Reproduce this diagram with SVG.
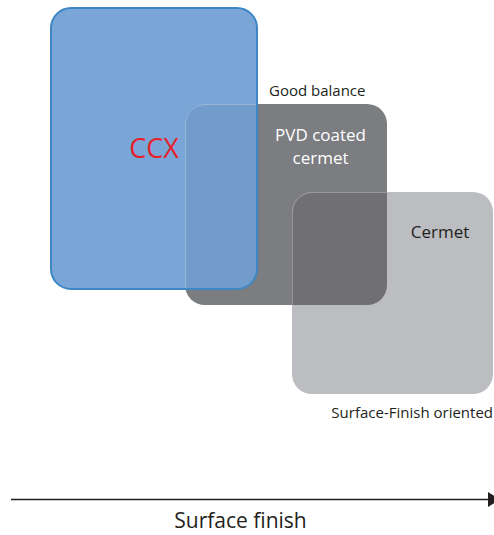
<svg xmlns="http://www.w3.org/2000/svg" width="494" height="535" viewBox="0 0 494 535">
  <style>
    text { font-family: "Open Sans", "Noto Sans", "Liberation Sans", sans-serif; }
    .lbl { fill: #231f20; }
    .white { fill: #ffffff; }
    .edge { fill: none; stroke: #ffffff; stroke-opacity: 0.28; stroke-width: 1; }
  </style>
  <defs>
    <marker id="arrow" markerWidth="12" markerHeight="15" refX="12" refY="7.5" orient="auto" markerUnits="userSpaceOnUse">
      <path d="M0,0 L12,7.5 L0,15 Z" fill="#231f20"/>
    </marker>
  </defs>
  <rect width="494" height="535" fill="#ffffff"/>

  <g id="node-pvd">
    <rect x="185" y="104" width="202" height="201" rx="20" fill="#7c7d81"/>
  </g>

  <g id="node-cermet">
    <rect x="292" y="192" width="201" height="202" rx="20" fill="#bcbdc1"/>
    <path d="M292,212 A20,20 0 0 1 312,192 H387 V285 A20,20 0 0 1 367,305 H292 Z" fill="#707074"/>
    <path class="edge" d="M292.5,305 V212 A20,20 0 0 1 312,192.5 H387"/>
    <text x="440" y="238" font-size="17" text-anchor="middle" class="lbl">Cermet</text>
  </g>

  <g id="node-ccx">
    <rect x="51" y="8" width="206" height="281" rx="20" fill="#79a6d6"/>
    <path d="M185,124 A20,20 0 0 1 205,104 H257 V269 A20,20 0 0 1 237,289 H185 Z" fill="#729ccb"/>
    <path class="edge" d="M185.5,289 V124 A20,20 0 0 1 205,104.5 H257"/>
    <rect x="51" y="8" width="206" height="281" rx="20" fill="none" stroke="#3d87c7" stroke-width="2"/>
    <text x="154" y="158" font-size="27" text-anchor="middle" fill="#e6212b">CCX</text>
  </g>

  <g id="pvd-labels">
    <text x="320.5" y="141" font-size="17" text-anchor="middle" class="white">PVD coated</text>
    <text x="320.5" y="164" font-size="17" text-anchor="middle" class="white">cermet</text>
  </g>

  <g id="annotations">
    <text x="269" y="96" font-size="15" class="lbl">Good balance</text>
    <text x="493" y="418" font-size="15" text-anchor="end" class="lbl">Surface-Finish oriented</text>
  </g>

  <g id="connectors">
    <line x1="11" y1="499.5" x2="500" y2="499.5" stroke="#231f20" stroke-width="1.5" marker-end="url(#arrow)"/>
  </g>

  <g id="axis-label">
    <text x="240.5" y="528" font-size="21" text-anchor="middle" class="lbl">Surface finish</text>
  </g>
</svg>
